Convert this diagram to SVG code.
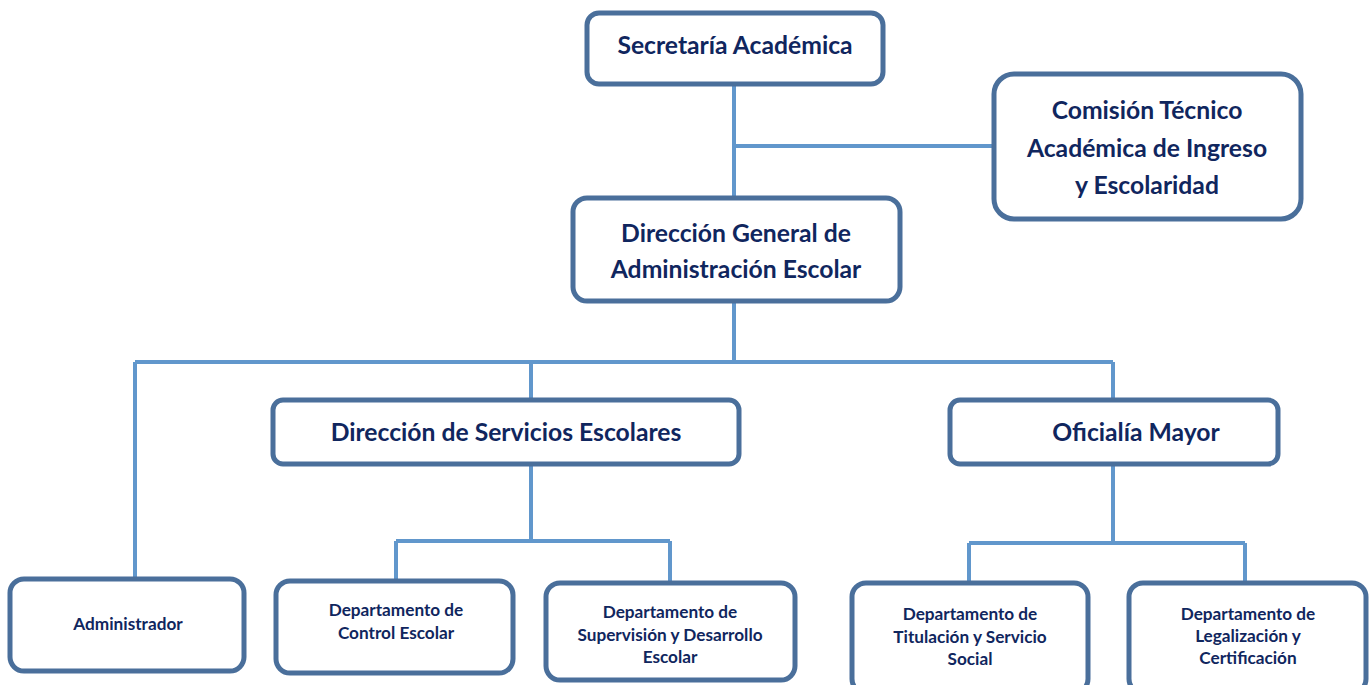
<svg xmlns="http://www.w3.org/2000/svg" width="1369" height="685" viewBox="0 0 1369 685">
<style>
.box{fill:#fff;stroke:#4a6f9b;stroke-width:5}
.t{font-family:Lato,"Liberation Sans",sans-serif;font-weight:bold;fill:#10265e;text-anchor:middle}
.big{font-size:24.7px}
.sm{font-size:17.2px}
.c{fill:none;stroke:#6197cc;stroke-width:4}
</style>
<rect width="1369" height="685" fill="#fff"/>
<g id="connectors">
<path class="c" d="M734 84V197M734 146H993"/>
<path class="c" d="M734 301V362M135 362H1113M135 362V578M531 362V400M1113 362V400"/>
<path class="c" d="M531 464V541M396 541H670M396 541V581M670 541V583"/>
<path class="c" d="M1113 464V543M969 543H1245M969 543V583M1245 543V583"/>
</g>
<g id="secretaria"><rect class="box" x="587" y="13" width="296" height="71" rx="12"/><text class="t big" x="735" y="54">Secretaría Académica</text></g>
<g id="comision"><rect class="box" x="994" y="74" width="307" height="145" rx="20"/><text class="t big" x="1147" y="119">Comisión Técnico</text><text class="t big" x="1147" y="157">Académica de Ingreso</text><text class="t big" x="1147" y="194">y Escolaridad</text></g>
<g id="dgae"><rect class="box" x="573" y="198" width="327" height="103" rx="14"/><text class="t big" x="736" y="242">Dirección General de</text><text class="t big" x="736" y="278">Administración Escolar</text></g>
<g id="dse"><rect class="box" x="273" y="400" width="466" height="64" rx="10"/><text class="t big" x="506" y="441">Dirección de Servicios Escolares</text></g>
<g id="om"><rect class="box" x="950" y="400" width="328" height="64" rx="10"/><text class="t big" x="1136" y="441">Oficialía Mayor</text></g>
<g id="admin"><rect class="box" x="10" y="579" width="234" height="92" rx="14"/><text class="t sm" x="128" y="630">Administrador</text></g>
<g id="control"><rect class="box" x="276" y="581" width="237" height="92" rx="14"/><text class="t sm" x="396" y="616">Departamento de</text><text class="t sm" x="396" y="639">Control Escolar</text></g>
<g id="supervision"><rect class="box" x="546" y="583" width="249" height="97" rx="14"/><text class="t sm" x="670" y="618">Departamento de</text><text class="t sm" x="670" y="641">Supervisión y Desarrollo</text><text class="t sm" x="670" y="663">Escolar</text></g>
<g id="titulacion"><rect class="box" x="852" y="583" width="236" height="110" rx="14"/><text class="t sm" x="970" y="620">Departamento de</text><text class="t sm" x="970" y="643">Titulación y Servicio</text><text class="t sm" x="970" y="665">Social</text></g>
<g id="legalizacion"><rect class="box" x="1129" y="583" width="237" height="110" rx="14"/><text class="t sm" x="1248" y="620">Departamento de</text><text class="t sm" x="1248" y="642">Legalización y</text><text class="t sm" x="1248" y="664">Certificación</text></g>
</svg>
